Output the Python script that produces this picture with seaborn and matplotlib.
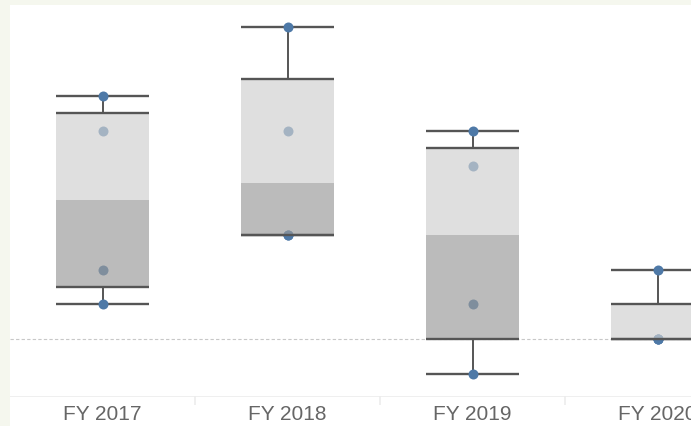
import numpy as np
import pandas as pd
import matplotlib
matplotlib.use('Agg')
import matplotlib.pyplot as plt
import seaborn as sns

# data (4 marks per fiscal year)
years = ['FY 2017', 'FY 2018', 'FY 2019', 'FY 2020']
fy2017 = [7, 6, 2, 1]
fy2018 = [9, 6, 3, 3]
fy2019 = [6, 5, 1, -1]
fy2020 = [2, 0, 0, 0]

series = [fy2017, fy2018, fy2019, fy2020]
df = pd.DataFrame({
    'year': [y for y, vals in zip(years, series) for _ in vals],
    'value': [v for vals in series for v in vals],
})

sns.set_theme(style='white')
plt.rcParams['font.family'] = ['Liberation Sans', 'DejaVu Sans']

BORDER = '#f5f7ee'
DOT = '#4e79a7'
LINE = '#555555'

fig = plt.figure(figsize=(6.91, 4.27), dpi=100, facecolor=BORDER)
left = 10 / 691
ax = fig.add_axes([left, 30 / 427, 1 - left, 1 - 30 / 427 - 6 / 427])
hdr = fig.add_axes([left, 0, 1 - left, 30 / 427])

# zero reference line
ax.axhline(0, color='#c8c8c8', lw=0.8, linestyle=(0, (3, 2)), zorder=0)

box_w = 0.5
for i, vals in enumerate(series):
    v = np.array(vals, dtype=float)
    q1, med, q3 = np.percentile(v, [25, 50, 75], method='midpoint')
    lo, hi = v.min(), v.max()
    # whiskers and caps
    ax.vlines(i, q3, hi, color=LINE, lw=1.4, zorder=2)
    ax.vlines(i, lo, q1, color=LINE, lw=1.4, zorder=2)
    ax.hlines([lo, hi], i - box_w / 2, i + box_w / 2, color=LINE, lw=1.7, zorder=2)
    # two-tone box
    ax.bar(i, q3 - med, bottom=med, width=box_w, color='#d0d0d0', alpha=0.67, lw=0, zorder=4)
    ax.bar(i, med - q1, bottom=q1, width=box_w, color='#999999', alpha=0.66, lw=0, zorder=4)
    ax.hlines([q1, q3], i - box_w / 2, i + box_w / 2, color=LINE, lw=1.7, zorder=5)

sns.stripplot(data=df, x='year', y='value', order=years, jitter=False, color=DOT,
              size=7.2, linewidth=0, ax=ax, zorder=3)

ax.set_xlim(-0.5, -0.5 + 681 / 185)
ax.set_ylim(-57 / 34.7, 334 / 34.7)
ax.set_xlabel('')
ax.set_ylabel('')
ax.set_xticks([])
ax.set_yticks([])
for s in ax.spines.values():
    s.set_visible(False)
ax.set_facecolor('white')

# column header strip
hdr.set_xlim(ax.get_xlim())
hdr.set_ylim(0, 1)
hdr.set_facecolor('white')
for s in hdr.spines.values():
    s.set_visible(False)
hdr.axhline(1, color='#ececec', lw=1.2)
hdr.vlines(np.arange(len(years) - 1) + 0.5, 0.7, 1, color='#ececec', lw=1.2)
for i, y in enumerate(years):
    hdr.text(i, 0.4, y, ha='center', va='center', fontsize=15, color='#666666')
hdr.set_xticks([])
hdr.set_yticks([])

fig.savefig('out.png', dpi=100, facecolor=BORDER)
